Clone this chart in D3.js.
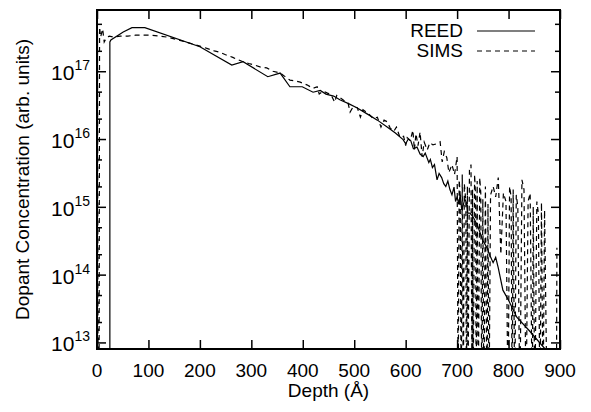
<!DOCTYPE html>
<html>
<head>
<meta charset="utf-8">
<script src="https://cdn.jsdelivr.net/npm/d3@7"></script>
<style>
    body { margin: 0; background: #fff; }
    #chart { width: 591px; height: 412px; }
    text { font-family: "Liberation Sans", Arial, Helvetica, sans-serif; fill: #000; }
</style>
</head>
<body>
<div id="chart"></div>
<script>

// REED profile: depth (Angstrom), concentration (arb. units); 0 = below the axis
const reedDepth = [25, 25, 27, 51, 68, 93, 200, 262, 284, 332, 356, 375, 399, 420, 434, 445, 460, 472, 490,
    505, 525, 545, 564, 580, 595, 600, 605, 610, 615, 622, 628, 634, 638, 645, 648, 652, 656, 661, 665,
    670, 674, 678, 682, 686, 690, 694, 697, 700, 703, 706, 709, 712, 715, 718, 721,
    725, 732, 740, 750, 758, 764, 770, 775, 780, 789, 800, 816, 840, 871];
const reedConc = [0, 2.7e17, 2.9e17, 3.8e17, 4.4e17, 4.4e17, 2.3e17, 1.23e17, 1.38e17, 8.3e16, 9.4e16, 5.9e16, 5.9e16,
    4.9e16, 5.2e16, 4.6e16, 4.3e16, 3.8e16, 3.3e16, 2.9e16, 2.35e16, 1.9e16, 1.5e16, 1.23e16, 9.8e15, 8.5e15,
    1.0e16, 9.4e15, 7.2e15, 7.6e15, 6.0e15, 5.5e15, 6.2e15, 4.5e15, 5.0e15, 3.8e15, 4.2e15, 2.5e15, 3.1e15,
    2.7e15, 2.2e15, 2.0e15, 2.4e15, 1.8e15, 1.5e15, 1.95e15, 1.2e15, 1.4e15, 1.1e15, 1.5e15, 9e14, 1.07e15,
    1.3e15, 1.15e15, 8e14,
    8.1e14, 6.9e14, 5.2e14, 3.2e14, 2.5e14, 1.9e14, 1.5e14, 1.8e14, 1.26e14, 5.9e13, 4.2e13, 2.35e13, 1.5e13, 8e12];

// SIMS profile
const simsDepth = [0, 1, 2, 4, 5, 7, 11, 14, 18, 24, 32, 45, 60, 75, 90, 105, 120, 135, 150, 165, 180,
    200, 215, 228, 239, 250, 264, 272, 284, 295, 307, 318, 330, 342, 356, 365, 375, 385, 395, 408, 420,
    428, 432, 440, 447, 455, 462, 466, 472, 480, 488, 492, 498, 506, 512, 517, 527, 537, 545, 552, 558,
    564, 570, 577, 582, 589, 596, 600, 603, 609, 614, 617, 620, 624, 628, 632, 636, 642, 647, 653, 660,
    667, 671, 675, 680, 684, 690, 695, 700,
    702, 704, 706, 708, 710, 712, 714, 717, 718, 720, 721, 724, 727, 729, 730, 731, 734, 736, 737, 739,
    741, 744, 746, 748, 750, 752, 755, 758, 760, 762, 765, 770, 775, 780, 785, 790, 795, 799, 802, 805,
    807, 809, 812, 815, 818, 822, 826, 830, 834, 838, 842, 846, 848, 851, 855, 858, 861, 864, 867, 870,
    875, 893, 894];
const simsConc = [0, 3.8e17, 0, 0, 4.5e17, 3.2e17, 4.2e17, 2.7e17, 3.1e17, 3.3e17, 3.2e17, 3.3e17, 3.3e17,
    3.4e17, 3.4e17, 3.4e17, 3.3e17, 3.2e17, 3.0e17, 2.8e17, 2.6e17,
    2.35e17, 2.15e17, 2.0e17, 1.9e17, 1.75e17, 1.6e17, 1.5e17, 1.38e17, 1.3e17, 1.23e17, 1.15e17, 1.12e17,
    1.0e17, 9.4e16, 8.4e16, 7.4e16, 7.2e16, 6.9e16, 6.3e16, 5.6e16,
    5.9e16, 4.6e16, 5.1e16, 4.8e16, 4.5e16, 3.5e16, 4.4e16, 4.1e16, 3.7e16, 3.4e16, 2.5e16, 3.0e16, 2.9e16,
    2.1e16, 2.7e16, 2.4e16, 2.0e16, 2.1e16, 1.5e16, 1.9e16,
    1.8e16, 1.45e16, 1.3e16, 1.5e16, 1.05e16, 1.1e16, 8.0e15, 1.05e16, 9.5e15, 1.35e16, 6.9e15, 1.2e16,
    8e15, 1.27e16, 5.5e15, 9e15, 6.9e15, 8.8e15, 8.2e15, 8.5e15,
    9.1e15, 4.6e15, 6.5e15, 5.3e15, 3.2e15, 4.2e15, 3.0e15, 5.5e15,
    0, 2.5e15, 1.5e15, 0, 3.0e15, 0, 2.2e15, 1.2e15, 0, 2.0e15, 0, 3.5e15, 4.2e15, 0, 1.8e15, 0, 3.0e15,
    1.4e15, 0, 2.4e15,
    0, 2.7e15, 1.6e15, 0, 1.3e15, 0, 2.0e15, 0, 1.1e15, 0, 1.5e15, 2.0e15, 1.4e15, 2.7e15, 2e14, 1.6e15,
    1.2e15, 0, 2.0e15, 1.4e15,
    0, 1.8e15, 0, 1.5e15, 1.0e15, 0, 2.5e15, 1.8e15, 0, 1.2e15, 1.6e15, 0, 1.0e15, 0, 1.2e15, 8e14, 0,
    1.15e15, 0, 8.9e14,
    0, 0, 2.5e14];

const xTicks = [0, 100, 200, 300, 400, 500, 600, 700, 800, 900];
const yExponents = [13, 14, 15, 16, 17];
const yMinorFactors = [2, 5];
const seriesNames = ["REED", "SIMS"];

const width = document.querySelector("#chart").clientWidth;
const height = document.querySelector("#chart").clientHeight;

const svg = d3.select("#chart")
    .append("svg")
    .attr("width", width)
    .attr("height", height);

const margin = {
    top: 10,
    left: 97,
    right: 31,
    bottom: 63
};

const xScale = d3.scaleLinear()
    .domain([0, 900])
    .range([margin.left, width - margin.right]);

const yScale = d3.scaleLog()
    .domain([8e12, 8e17])
    .range([height - margin.bottom, margin.top]);

const floor = 1e12;

const reed = reedDepth.map(function(d, i) { return { depth: d, conc: reedConc[i] }; });
const sims = simsDepth.map(function(d, i) { return { depth: d, conc: simsConc[i] }; });

svg.append("clipPath")
    .attr("id", "plotClip")
    .append("rect")
    .attr("x", margin.left)
    .attr("y", margin.top)
    .attr("width", width - margin.left - margin.right)
    .attr("height", height - margin.top - margin.bottom);

const line = d3.line()
    .x(function(d) { return xScale(d.depth); })
    .y(function(d) { return yScale(d.conc > 0 ? d.conc : floor); });

const plot = svg.append("g").attr("clip-path", "url(#plotClip)");

plot.append("path")
    .datum(reed)
    .attr("fill", "none")
    .attr("stroke", "#000")
    .attr("stroke-width", 1.2)
    .attr("d", line);

plot.append("path")
    .datum(sims)
    .attr("fill", "none")
    .attr("stroke", "#000")
    .attr("stroke-width", 1.2)
    .attr("stroke-dasharray", "5,4")
    .attr("d", line);

// ticks
const majorY = yExponents.map(function(e) { return Math.pow(10, e); });
let minorY = [];
[12, 13, 14, 15, 16, 17].forEach(function(e) {
    yMinorFactors.forEach(function(f) {
        const v = f * Math.pow(10, e);
        if (v >= 8e12 && v <= 8e17) minorY.push(v);
    });
});

function drawAxis(axis, tx, ty) {
    const g = svg.append("g")
        .attr("transform", "translate(" + tx + "," + ty + ")")
        .call(axis);
    g.select(".domain").remove();
    g.selectAll("line").attr("stroke", "#000").attr("stroke-width", 1.5);
    g.selectAll("text").remove();
    return g;
}

const plotW = width - margin.left - margin.right;
const plotH = height - margin.top - margin.bottom;

drawAxis(d3.axisBottom(xScale).tickValues(xTicks).tickSize(-9), 0, height - margin.bottom);
drawAxis(d3.axisTop(xScale).tickValues(xTicks).tickSize(-9), 0, margin.top);
drawAxis(d3.axisLeft(yScale).tickValues(majorY).tickSize(-9), margin.left, 0);
drawAxis(d3.axisLeft(yScale).tickValues(minorY).tickSize(-5), margin.left, 0);
drawAxis(d3.axisRight(yScale).tickValues(majorY).tickSize(-9), width - margin.right, 0);
drawAxis(d3.axisRight(yScale).tickValues(minorY).tickSize(-5), width - margin.right, 0);

svg.append("rect")
    .attr("x", margin.left)
    .attr("y", margin.top)
    .attr("width", plotW)
    .attr("height", plotH)
    .attr("fill", "none")
    .attr("stroke", "#000")
    .attr("stroke-width", 2);

// tick labels
svg.selectAll(".xlabel")
    .data(xTicks)
    .enter()
    .append("text")
    .attr("class", "xlabel")
    .attr("x", function(d) { return xScale(d); })
    .attr("y", height - margin.bottom + 28)
    .attr("text-anchor", "middle")
    .style("font-size", "19px")
    .text(function(d) { return d; });

const yLabels = svg.selectAll(".ylabel")
    .data(yExponents)
    .enter()
    .append("text")
    .attr("class", "ylabel")
    .attr("x", margin.left - 7)
    .attr("y", function(d) { return yScale(Math.pow(10, d)) + 9; })
    .attr("text-anchor", "end");

yLabels.append("tspan")
    .style("font-size", "21px")
    .text("10");
yLabels.append("tspan")
    .style("font-size", "14px")
    .attr("dy", -10)
    .text(function(d) { return d; });

// axis titles
svg.append("text")
    .attr("x", (margin.left + width - margin.right) / 2)
    .attr("y", height - 15)
    .attr("text-anchor", "middle")
    .style("font-size", "19px")
    .text("Depth (Å)");

svg.append("text")
    .attr("transform", "rotate(-90)")
    .attr("x", -(margin.top + plotH / 2))
    .attr("y", 29)
    .attr("text-anchor", "middle")
    .style("font-size", "19px")
    .text("Dopant Concentration (arb. units)");

// legend
const legend = svg.selectAll(".legend")
    .data(seriesNames)
    .enter()
    .append("g")
    .attr("class", "legend")
    .attr("transform", function(d, i) { return "translate(0," + (37 + i * 20) + ")"; });

legend.append("text")
    .attr("x", 463)
    .attr("y", 0)
    .attr("text-anchor", "end")
    .style("font-size", "19px")
    .text(function(d) { return d; });

legend.append("line")
    .attr("x1", 477)
    .attr("x2", 535)
    .attr("y1", -6)
    .attr("y2", -6)
    .attr("stroke", "#000")
    .attr("stroke-width", 1.2)
    .attr("stroke-dasharray", function(d) { return d === "SIMS" ? "5,4" : null; });

</script>
</body>
</html>
